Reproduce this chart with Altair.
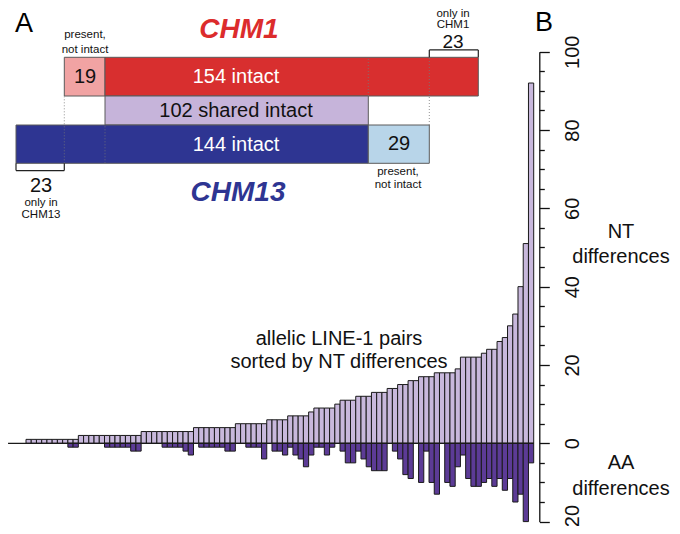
import altair as alt
import pandas as pd

# ---------------- data: panel B (allelic LINE-1 pairs, sorted by NT differences)
nt = [1, 1, 1, 1, 1, 1, 1, 1, 1, 1,
      2, 2, 2, 2, 2, 2, 2, 2, 2, 2, 2, 2,
      3, 3, 3, 3, 3, 3, 3, 3, 3, 3,
      4, 4, 4, 4, 4, 4, 4, 4,
      5, 5, 5, 5, 5, 5,
      6, 6, 6, 6,
      7, 7, 7, 7,
      8,
      9, 9, 9, 9,
      10,
      11, 11, 11,
      12, 12, 12,
      13, 13, 13,
      14, 14,
      15, 15,
      16, 16,
      17, 17, 17,
      18, 18, 18, 18,
      19,
      22, 22, 22, 22,
      23,
      24, 24,
      26, 27, 30, 33, 40, 51, 92]

aa = [0, 0, 0, 0, 0, 0, 0, 0, 1, 1,
      0, 0, 0, 0, 0, 1, 1, 1, 1, 1, 2, 2,
      0, 0, 0, 0, 1, 1, 1, 1, 2, 3,
      0, 1, 1, 1, 1, 1, 2, 2,
      0, 0, 1, 1, 1, 4,
      0, 2, 2, 3,
      1, 3, 4, 6,
      3,
      1, 1, 3, 1,
      0,
      2, 5, 5,
      2, 4, 6,
      7, 7, 7,
      0, 2,
      4, 8,
      9, 0,
      10, 2, 10,
      13, 0, 10, 11,
      6,
      3, 9, 11, 11,
      10,
      9, 11,
      9, 12, 9, 15, 13, 20, 5]

axis_ticks = [-20, -15, -10, -5, 0, 5, 10, 15, 20, 25, 30, 35, 40, 45, 50,
              55, 60, 65, 70, 75, 80, 85, 90, 95, 100]

# ---------------- data: panel A (counts of intact LINE-1)
box_label = ["19", "154 intact", "102 shared intact", "144 intact", "29"]
box_start = [23, 42, 42, 0, 144]
box_end = [42, 196, 144, 144, 173]
box_row = [2, 2, 1, 0, 0]
box_fill = ["#f1a3a3", "#d82f2f", "#c6b4da", "#2e3592", "#b8d5e9"]

NT_COLOR = "#c8b8dc"
AA_COLOR = "#5c3b96"
FONT = "Liberation Sans"

# ---------------- tables
bar_rows = []
for i, (a, b) in enumerate(zip(nt, aa)):
    bar_rows.append({"i": i, "i1": i + 1, "top": a, "bot": 0, "kind": "NT"})
    if b > 0:
        bar_rows.append({"i": i, "i1": i + 1, "top": 0, "bot": -b, "kind": "AA"})
bar_df = pd.DataFrame(bar_rows)

box_df = pd.DataFrame({
    "x0": box_start, "x1": box_end,
    "y0": box_row, "y1": [r + 1 for r in box_row],
    "fill": box_fill, "label": box_label,
})

dot_df = pd.DataFrame({"x": [23, 42, 144, 173], "y0": [0, 0, 2, 1], "y1": [2, 1, 3, 3]})

br_df = pd.DataFrame({
    "x": [173, 173, 196, 0, 0, 23],
    "x2": [196, 173, 196, 23, 0, 23],
    "y": [3.19, 3.0, 3.0, -0.19, 0.0, 0.0],
    "y2": [3.19, 3.19, 3.19, -0.19, -0.19, -0.19],
})

# scales (positions in the drawing area, which starts at the page's 8px margin)
xb = alt.Scale(domain=[0, 97], range=[18, 525.7], nice=False, zero=False)
yb = alt.Scale(domain=[-20, 100], range=[513.6, 43.7], nice=False, zero=False)
xs = alt.Scale(domain=[0, 23, 42, 144, 173, 196],
               range=[8, 56.3, 97, 360.3, 421.3, 470.3], nice=False, zero=False)
ys = alt.Scale(domain=[0, 1, 2, 3], range=[155.3, 117, 88, 49.3], nice=False, zero=False)

yaxis = alt.Axis(
    orient="right", offset=-132.7, values=axis_ticks, title=None, grid=False,
    labelExpr="datum.value % 20 === 0 ? '' + abs(datum.value) : ''",
    tickSize={"condition": {"test": "datum.value % 20 === 0", "value": 10}, "value": 5},
    labelOffset={"condition": {"test": "datum.value === -20", "value": -6}, "value": 0},
    labelAngle=270, labelAlign="center", labelBaseline="top", labelPadding=13,
    labelFont=FONT, labelFontSize=20, labelColor="#111111", labelOverlap=False,
    labelFlush=False, domainColor="#111111", tickColor="#111111",
    domainWidth=1.3, tickWidth=1.3,
)

bars = alt.Chart(bar_df).mark_rect(stroke="#1a1a1a", strokeWidth=1).encode(
    x=alt.X("i:Q", scale=xb, axis=None),
    x2="i1:Q",
    y=alt.Y("top:Q", scale=yb, axis=yaxis),
    y2="bot:Q",
    fill=alt.Fill("kind:N", scale=alt.Scale(domain=["NT", "AA"], range=[NT_COLOR, AA_COLOR]),
                  legend=None),
)

baseline = alt.Chart(pd.DataFrame({"x1": [-3.43], "x2": [97], "y": [0]})).mark_rule(
    color="#1a1a1a", strokeWidth=1.2).encode(
    x=alt.X("x1:Q", scale=xb, axis=None), x2="x2:Q",
    y=alt.Y("y:Q", scale=yb, axis=None),
)

boxes = alt.Chart(box_df).mark_rect(stroke="#5a5a5a", strokeWidth=1).encode(
    x=alt.X("x0:Q", scale=xs, axis=None), x2="x1:Q",
    y=alt.Y("y0:Q", scale=ys, axis=None), y2="y1:Q",
    fill=alt.Fill("fill:N", scale=None),
)

dots = alt.Chart(dot_df).mark_rule(color="#777777", strokeWidth=1, strokeDash=[1, 2],
                                   opacity=0.8).encode(
    x=alt.X("x:Q", scale=xs, axis=None),
    y=alt.Y("y0:Q", scale=ys, axis=None), y2="y1:Q",
)

brackets = alt.Chart(br_df).mark_rule(color="#222222", strokeWidth=1.2).encode(
    x=alt.X("x:Q", scale=xs, axis=None), x2="x2:Q",
    y=alt.Y("y:Q", scale=ys, axis=None), y2="y2:Q",
)

# annotation texts (pixel positions of the 680x534 page, minus the 8px margin)
t_text = ["present,", "not intact", "19", "154 intact", "102 shared intact", "144 intact",
          "29", "present,", "not intact", "only in", "CHM1", "23", "23", "only in", "CHM13",
          "allelic LINE-1 pairs", "sorted by NT differences", "NT", "differences",
          "AA", "differences", "A", "B"]
t_x = [85, 85, 85, 236, 236, 236, 399, 398, 398, 453, 453, 453, 41, 41, 41,
       339, 339, 621, 621, 621, 621, 24, 544]
t_y = [35, 50, 77, 77, 110.5, 144.5, 144, 171.5, 184.5, 14, 25, 41.5, 185.5, 202.5, 215,
       339, 362, 232, 257, 463, 489, 24, 23]
t_size = [11.5, 11.5, 20, 20, 20, 20, 20, 11.5, 11.5, 11.5, 11.5, 19, 20, 11.5, 11.5,
          20, 20, 20, 20, 20, 20, 27, 27]
t_col = ["#111111", "#111111", "#111111", "#ffffff", "#111111", "#ffffff", "#111111",
         "#111111", "#111111", "#111111", "#111111", "#111111", "#111111", "#111111",
         "#111111", "#111111", "#111111", "#111111", "#111111", "#111111", "#111111",
         "#000000", "#000000"]
txt_df = pd.DataFrame({"t": t_text, "px": [v - 8 for v in t_x], "py": [v - 8 for v in t_y],
                       "fs": t_size, "c": t_col})

texts = alt.Chart(txt_df).mark_text(font=FONT, align="center", baseline="middle").encode(
    x=alt.X("px:Q", scale=None), y=alt.Y("py:Q", scale=None), text="t:N",
    size=alt.Size("fs:Q", scale=None), color=alt.Color("c:N", scale=None),
)

title_df = pd.DataFrame({"t": ["CHM1", "CHM13"], "px": [239 - 8, 238 - 8],
                         "py": [30 - 8, 193 - 8], "c": ["#dc2c2c", "#2e3592"]})
titles = alt.Chart(title_df).mark_text(font=FONT, fontSize=28, fontWeight="bold",
                                       fontStyle="italic", align="center",
                                       baseline="middle").encode(
    x=alt.X("px:Q", scale=None), y=alt.Y("py:Q", scale=None), text="t:N",
    color=alt.Color("c:N", scale=None),
)

chart = alt.layer(boxes, dots, brackets, bars, baseline, texts, titles).resolve_scale(
    x="independent", y="independent", fill="independent", color="independent",
    size="independent",
).properties(
    width=664, height=518, padding=0,
    autosize=alt.AutoSizeParams(type="none"),
    background="white",
).configure_view(strokeWidth=0)

chart.save("out.html", embed_options={"renderer": "svg", "actions": False})
